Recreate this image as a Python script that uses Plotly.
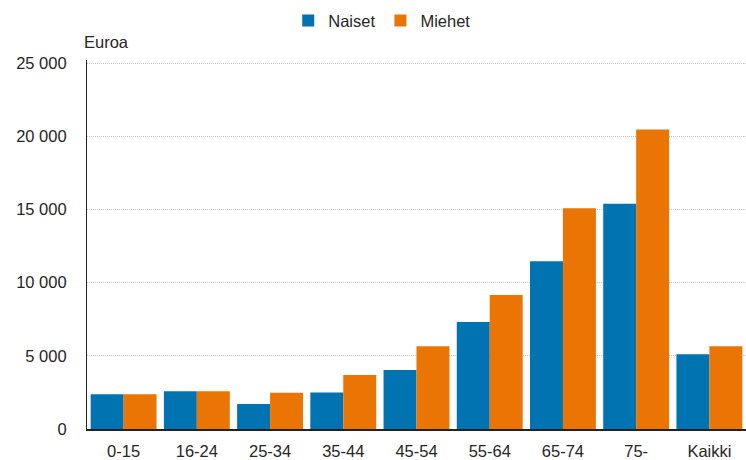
import plotly.graph_objects as go

# Age groups and average amounts (euros) by sex
age_groups = ["0-15", "16-24", "25-34", "35-44", "45-54", "55-64", "65-74", "75-", "Kaikki"]
naiset = [2370, 2580, 1710, 2500, 4030, 7310, 11450, 15390, 5100]
miehet = [2370, 2580, 2480, 3690, 5650, 9150, 15080, 20450, 5650]

y_ticks = [0, 5000, 10000, 15000, 20000, 25000]
y_tick_labels = ["0", "5 000", "10 000", "15 000", "20 000", "25 000"]

BLUE = "#0073b0"
ORANGE = "#ea7404"
TEXT = "#262626"
FONT = "Liberation Sans, Arial, sans-serif"

fig = go.Figure()
fig.add_trace(go.Bar(name="Naiset", x=age_groups, y=naiset, marker_color=BLUE,
                     marker_line_width=0))
fig.add_trace(go.Bar(name="Miehet", x=age_groups, y=miehet, marker_color=ORANGE,
                     marker_line_width=0))

fig.update_layout(
    width=746, height=460,
    margin=dict(l=87, r=0, t=60, b=31, pad=0),
    barmode="group",
    bargap=0.1,
    bargroupgap=0,
    plot_bgcolor="white",
    paper_bgcolor="white",
    font=dict(family=FONT, size=16.5, color=TEXT),
    showlegend=True,
    legend=dict(orientation="h", x=0.448, xanchor="center", y=1.106, yanchor="middle",
                font=dict(size=16.5, color=TEXT), itemwidth=30, traceorder="normal",
                itemsizing="constant"),
    xaxis=dict(
        showline=True, linecolor="#222222", linewidth=1.5,
        ticks="", showgrid=False, tickfont=dict(size=16.5, color=TEXT),
        ticklabelstandoff=6,
    ),
    yaxis=dict(
        range=[0, 25205], tickvals=y_ticks, ticktext=y_tick_labels,
        showline=True, linecolor="#222222", linewidth=1.2,
        showgrid=True, gridcolor="#c8c8c8", gridwidth=1, griddash="1px,1px",
        ticks="", tickfont=dict(size=16.5, color=TEXT), zeroline=False,
        ticklabelstandoff=16,
    ),
    annotations=[dict(
        text="Euroa", xref="paper", yref="paper", x=0, y=1.0, xshift=-5, yshift=7,
        xanchor="left", yanchor="bottom", showarrow=False,
        font=dict(size=16.5, color=TEXT),
    )],
)

fig.write_html("out.html")
